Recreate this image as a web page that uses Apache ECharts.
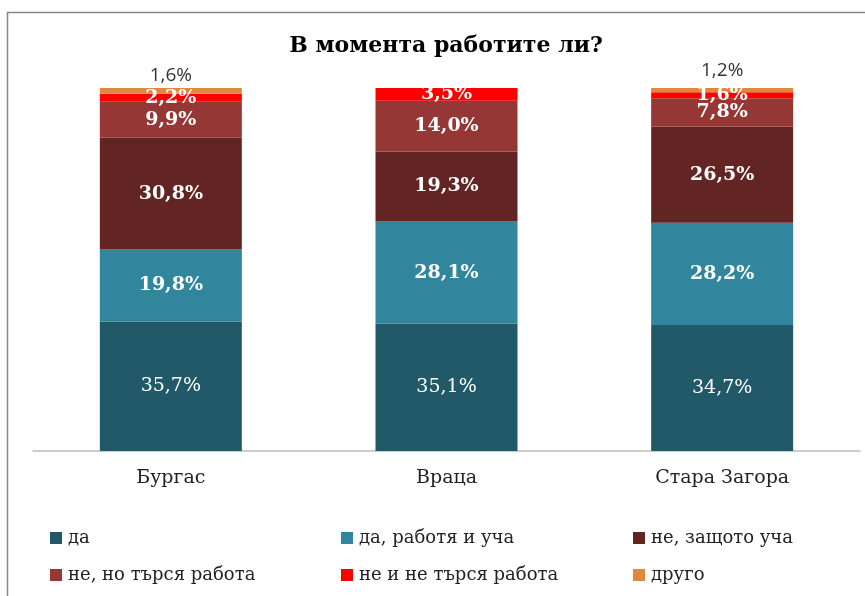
<!DOCTYPE html>
<html>
<head>
<meta charset="utf-8">
<script src="https://cdn.jsdelivr.net/npm/echarts@6/dist/echarts.min.js"></script>
<style>
  html, body { margin: 0; padding: 0; background: #fff; }
  #chart { width: 865px; height: 596px; }
</style>
</head>
<body>
<div id="chart"></div>
<script>
const cities = ['Бургас', 'Враца', 'Стара Загора'];

const seriesNames = [
    'да',
    'да, работя и уча',
    'не, защото уча',
    'не, но търся работа',
    'не и не търся работа',
    'друго',
];

const yes = [35.7, 35.1, 34.7];
const yesWorkStudy = [19.8, 28.1, 28.2];
const noStudying = [30.8, 19.3, 26.5];
const noLooking = [9.9, 14.0, 7.8];
const noNotLooking = [2.2, 3.5, 1.6];
const other = [1.6, 0, 1.2];

const colors = ['#215968', '#31859c', '#632523', '#953735', '#ff0000', '#e0883f'];

const serif = '"DejaVu Serif", "Liberation Serif", serif';
const fmt = (v) => v.toFixed(1).replace('.', ',') + '%';

const values = [yes, yesWorkStudy, noStudying, noLooking, noNotLooking, other];

const series = values.map((vals, i) => {
    const isOther = i === 5;
    return {
        name: seriesNames[i],
        type: 'bar',
        stack: 'total',
        barWidth: 142,
        itemStyle: { color: colors[i] },
        data: vals.map((v, j) => {
            const item = { value: v };
            if (isOther) {
                item.label = { offset: [0, j === 2 ? -5 : 0] };
            }
            return item;
        }),
        label: {
            show: true,
            position: isOther ? 'top' : 'inside',
            distance: 3,
            formatter: (p) => (p.value > 0 ? fmt(p.value) : ''),
            color: isOther ? '#333' : '#fff',
            fontFamily: isOther ? '"Open Sans", "Noto Sans", sans-serif' : serif,
            fontWeight: i === 0 || isOther ? 'normal' : 'bold',
            fontSize: isOther ? 19 : 19,
        },
        emphasis: { disabled: true },
    };
});

const legendCols = [50, 341, 633];
const legendRows = [529, 566];
const legends = seriesNames.map((name, i) => ({
    data: [name],
    left: legendCols[i % 3],
    top: legendRows[Math.floor(i / 3)],
    itemWidth: 12,
    itemHeight: 12,
    itemGap: 0,
    icon: 'rect',
    padding: 0,
    selectedMode: false,
    textStyle: { fontFamily: serif, fontSize: 18, color: '#222', padding: [0, 0, 0, 1] },
}));

const chart = echarts.init(document.getElementById('chart'));
chart.setOption({
    backgroundColor: '#fff',
    animation: false,
    title: {
        text: 'В момента работите ли?',
        left: 441,
        textAlign: 'center',
        top: 30,
        textStyle: { fontFamily: serif, fontWeight: 'bold', fontSize: 22, color: '#000' },
    },
    graphic: [{
        type: 'rect',
        shape: { x: 7.5, y: 12.5, width: 900, height: 700 },
        style: { fill: 'none', stroke: '#888', lineWidth: 1.5 },
        silent: true,
    }],
    legend: legends,
    grid: { left: 33, right: 5, top: 88, bottom: 145 },
    xAxis: {
        type: 'category',
        data: cities,
        axisLine: { lineStyle: { color: '#bdbdbd', width: 1.5 } },
        axisTick: { show: false },
        axisLabel: { fontFamily: serif, fontSize: 19, color: '#222', margin: 18 },
    },
    yAxis: {
        type: 'value',
        min: 0,
        max: 100,
        show: false,
    },
    series: series,
});
</script>
</body>
</html>
